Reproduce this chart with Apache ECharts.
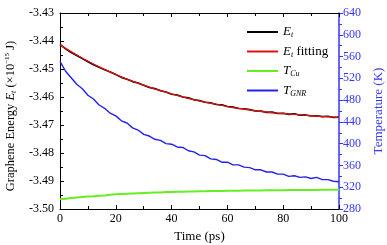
<!DOCTYPE html>
<html><head><meta charset="utf-8">
<script src="https://cdn.jsdelivr.net/npm/echarts@6/dist/echarts.min.js"></script>
<style>html,body{margin:0;padding:0;background:#fff}#c{width:387px;height:245px}</style>
</head><body><div id="c"></div>
<script>
var timePs = [0,2,4,6,8,10,12,14,16,18,20,22,24,26,28,30,32,34,36,38,40,42,44,46,48,50,52,54,56,58,60,62,64,66,68,70,72,74,76,78,80,82,84,86,88,90,92,94,96,98,100];
var energyEt = [-3.4412,-3.4428,-3.4441,-3.4452,-3.4463,-3.4474,-3.4485,-3.4494,-3.4503,-3.4511,-3.4520,-3.4530,-3.4537,-3.4545,-3.4550,-3.4558,-3.4566,-3.4570,-3.4578,-3.4582,-3.4590,-3.4593,-3.4600,-3.4603,-3.4610,-3.4613,-3.4619,-3.4621,-3.4627,-3.4628,-3.4634,-3.4636,-3.4641,-3.4642,-3.4645,-3.4650,-3.4650,-3.4655,-3.4654,-3.4659,-3.4658,-3.4662,-3.4660,-3.4665,-3.4664,-3.4668,-3.4667,-3.4670,-3.4669,-3.4673,-3.4672];
var fitTime = [0,5,10,15,20,25,30,35,40,45,50,55,60,65,70,75,80,85,90,95,100];
var energyFit = [-3.4414,-3.4444,-3.4472,-3.4497,-3.4519,-3.4540,-3.4558,-3.4574,-3.4589,-3.4602,-3.4614,-3.4624,-3.4634,-3.4642,-3.4649,-3.4655,-3.4659,-3.4663,-3.4667,-3.4670,-3.4673];
var tempCu = [298,299,300,301,302,303,303.5,304.5,305,306,307,307.5,308,308.5,309,309.5,310,310.5,310.5,311,311,311.5,311.5,312,312,312.5,312.5,313,313,313,313.5,313.5,313.5,314,314,314,314,314.5,314.5,314.5,314.5,315,315,315,315,315,315,315.5,315.5,315.5,315.5];
var tempGNR = [551,533,521,509,501,489,482,471,465,456,451,442,438,429,425,417,414,408,406,400,399,394,393,387,385,379,378,372,371,366,366,361,361,357,356,352,352,348,348,344,344,340,341,338,339,336,338,334,334,331,330];
var xTicks = {min:0, max:100, interval:20};
var yLeft = {min:-3.50, max:-3.43, interval:0.01};
var yRight = {min:280, max:640, interval:40};

function pairs(xs, ys){ return xs.map(function(x,i){ return [x, ys[i]]; }); }
var FONT = 'Liberation Serif';
var BLUE = '#3535ff';
var chart = echarts.init(document.getElementById('c'), null, {renderer:'canvas'});
var legendRich = {
  n:{fontFamily:FONT,fontSize:13,color:'#000'},
  i:{fontFamily:FONT,fontSize:13,fontStyle:'italic',color:'#000'},
  s:{fontFamily:FONT,fontSize:8,fontStyle:'italic',color:'#000',verticalAlign:'bottom',padding:[6,0,0,0]}
};
var legendNames = {
  'Et':'{i|E}{s|t}',
  'Etfit':'{i|E}{s|t}{n| fitting}',
  'TCu':'{i|T}{s|Cu}',
  'TGNR':'{i|T}{s|GNR}'
};
chart.setOption({
  animation:false,
  backgroundColor:'#fff',
  grid:{left:60,right:48,top:13,bottom:36,outerBoundsMode:'none',containLabel:false},
  legend:{
    orient:'vertical', left:242, top:20, itemWidth:31, itemHeight:2, itemGap:5.5,
    icon:'rect',
    data:['Et','Etfit','TCu','TGNR'],
    formatter:function(n){ return legendNames[n]; },
    textStyle:{fontFamily:FONT,fontSize:13,rich:legendRich,lineHeight:14}
  },
  xAxis:[{
    type:'value', min:xTicks.min, max:xTicks.max, interval:xTicks.interval,
    name:'Time (ps)', nameLocation:'middle', nameGap:19,
    nameTextStyle:{fontFamily:FONT,fontSize:13,color:'#000'},
    axisLine:{onZero:false,lineStyle:{color:'#000',width:1}},
    axisTick:{inside:true,length:4,lineStyle:{color:'#000'}},
    minorTick:{show:true,splitNumber:2,length:3,lineStyle:{color:'#000'}},
    splitLine:{show:false},
    axisLabel:{fontFamily:FONT,fontSize:12,color:'#000',margin:4}
  },{
    type:'value', position:'top', min:xTicks.min, max:xTicks.max, interval:xTicks.interval,
    axisLine:{onZero:false,lineStyle:{color:'#000',width:1}},
    axisTick:{inside:true,length:4,lineStyle:{color:'#000'}},
    minorTick:{show:true,splitNumber:2,length:3,lineStyle:{color:'#000'}},
    splitLine:{show:false}, axisLabel:{show:false}
  }],
  yAxis:[{
    type:'value', position:'left', min:yLeft.min, max:yLeft.max, interval:yLeft.interval,
    name:'{n|Graphene Energy }{i|E}{s|t}{n| (×10}{p|−15}{n| J)}',
    nameLocation:'middle', nameGap:40, nameRotate:90,
    nameTextStyle:{fontFamily:FONT,fontSize:12.5,color:'#000',padding:[0,10,0,0],rich:{
      n:{fontFamily:FONT,fontSize:12.5,color:'#000'},
      i:{fontFamily:FONT,fontSize:12.5,fontStyle:'italic',color:'#000'},
      s:{fontFamily:FONT,fontSize:8,fontStyle:'italic',color:'#000',verticalAlign:'bottom',padding:[6,0,0,0]},
      p:{fontFamily:FONT,fontSize:7,color:'#000',verticalAlign:'top',padding:[0,0,6,0]}
    }},
    axisLine:{show:true,onZero:false,lineStyle:{color:'#000',width:1}},
    axisTick:{inside:true,length:4,lineStyle:{color:'#000'}},
    minorTick:{show:true,splitNumber:2,length:3,lineStyle:{color:'#000'}},
    splitLine:{show:false},
    axisLabel:{fontFamily:FONT,fontSize:12,color:'#000',margin:6,formatter:function(v){return v.toFixed(2);}}
  },{
    type:'value', position:'right', min:yRight.min, max:yRight.max, interval:yRight.interval,
    name:'Temperature (K)', nameLocation:'middle', nameGap:28, nameRotate:90,
    nameTextStyle:{fontFamily:FONT,fontSize:13,color:BLUE},
    axisLine:{show:true,onZero:false,lineStyle:{color:BLUE,width:1.5}},
    axisTick:{inside:false,length:4,lineStyle:{color:BLUE}},
    minorTick:{show:true,splitNumber:2,length:3,lineStyle:{color:BLUE}},
    splitLine:{show:false},
    axisLabel:{fontFamily:FONT,fontSize:12,color:BLUE,margin:4}
  }],
  series:[
    {name:'Et',type:'line',xAxisIndex:0,yAxisIndex:0,showSymbol:false,symbol:'none',
      data:pairs(timePs,energyEt),lineStyle:{color:'#000',width:1.6},itemStyle:{color:'#000'},z:3},
    {name:'Etfit',type:'line',xAxisIndex:0,yAxisIndex:0,showSymbol:false,symbol:'none',smooth:true,
      data:pairs(fitTime,energyFit),lineStyle:{color:'#e01010',width:1.3},itemStyle:{color:'#e01010'},z:4},
    {name:'TCu',type:'line',xAxisIndex:0,yAxisIndex:1,showSymbol:false,symbol:'none',
      data:pairs(timePs,tempCu),lineStyle:{color:'#66ee22',width:2},itemStyle:{color:'#66ee22'},z:2},
    {name:'TGNR',type:'line',xAxisIndex:0,yAxisIndex:1,showSymbol:false,symbol:'none',
      data:pairs(timePs,tempGNR),lineStyle:{color:'#2222ee',width:1.4},itemStyle:{color:'#2222ee'},z:2}
  ]
});
</script></body></html>
